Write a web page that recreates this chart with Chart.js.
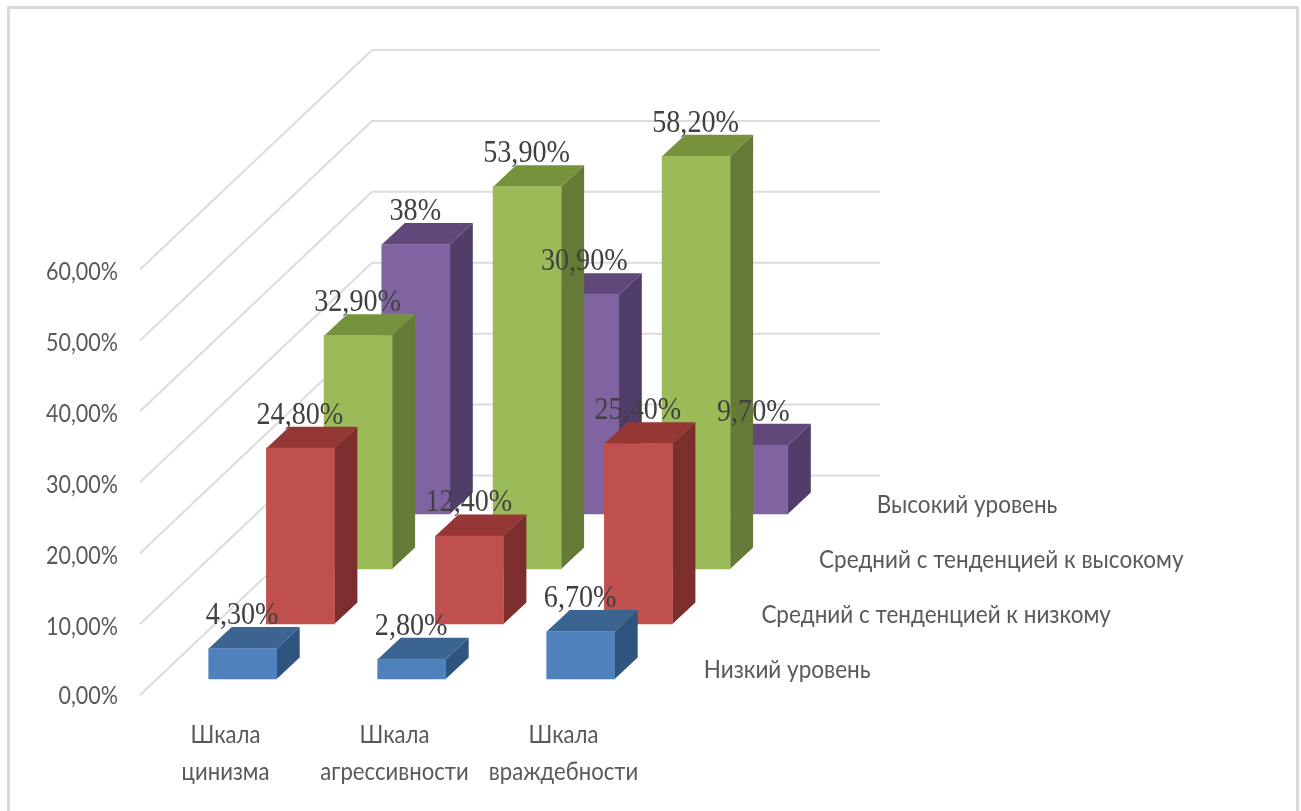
<!DOCTYPE html>
<html>
<head>
<meta charset="utf-8">
<script src="https://cdn.jsdelivr.net/npm/chart.js@4"></script>
<style>
html,body{margin:0;padding:0;background:#fff;width:1301px;height:811px;overflow:hidden}
#frame{position:absolute;left:7px;top:6px;width:1286px;height:900px;border:3px solid #d9d9d9}
canvas{position:absolute;left:0;top:0;filter:blur(0.55px)}
</style>
</head>
<body>
<div id="frame"></div>
<canvas id="c" width="1301" height="811"></canvas>
<script>
const categories = [['Шкала','цинизма'],['Шкала','агрессивности'],['Шкала','враждебности']];
const seriesNames = ['Низкий уровень','Средний с тенденцией к низкому','Средний с тенденцией к высокому','Высокий уровень'];
const lowLevel = [4.3, 2.8, 6.7];
const midLow = [24.8, 12.4, 25.4];
const midHigh = [32.9, 53.9, 58.2];
const highLevel = [38, 30.9, 9.7];
const valueLabels = [
  ['4,30%','2,80%','6,70%'],
  ['24,80%','12,40%','25,40%'],
  ['32,90%','53,90%','58,20%'],
  ['38%','30,90%','9,70%']
];
const yTicks = [0,10,20,30,40,50,60];
const frontColors = ['#4f81bd','#c0504d','#9bbb59','#8064a2'];
const topColors = ['#3b6491','#953735','#76923c','#60497a'];
const sideColors = ['#2f5480','#7b2e2c','#647a36','#513d6a'];

const seriesValues = [lowLevel, midLow, midHigh, highLevel];
const off = k => ({x: 17.2 + k*57.7, y: -16 - k*55});
const BAR_DX = 23, BAR_DY = -21.5;
const WALL_DX = 232, WALL_DY = -219.5, WALL_END = 880;
const AXIS_FONT = '25px Lato,"Open Sans",sans-serif';
const LABEL_FONT = '32px "Liberation Serif",serif';
const Y_SQUEEZE = 0.86, X_SQUEEZE = 0.885, NAME_SQUEEZE = 0.90, LABEL_SQUEEZE = 0.88;

function poly(ctx, pts, color){
  ctx.fillStyle = color;
  ctx.beginPath();
  pts.forEach((p,i)=> i ? ctx.lineTo(p[0],p[1]) : ctx.moveTo(p[0],p[1]));
  ctx.closePath();
  ctx.fill();
}
function squeezed(ctx, text, x, y, sx){
  ctx.save();
  ctx.translate(x,y);
  ctx.scale(sx,1);
  ctx.fillText(text,0,0);
  ctx.restore();
}

const scene3d = {
  id:'scene3d',
  beforeDatasetsDraw(chart){
    const {ctx, scales:{y,x}, chartArea:a} = chart;
    ctx.save();
    ctx.strokeStyle = '#dcdcdc';
    ctx.lineWidth = 2;
    y.ticks.forEach(t=>{
      const py = y.getPixelForValue(t.value);
      ctx.beginPath();
      ctx.moveTo(a.left-1, py);
      ctx.lineTo(a.left-1+WALL_DX, py+WALL_DY);
      ctx.lineTo(WALL_END, py+WALL_DY);
      ctx.stroke();
    });
    ctx.fillStyle = '#595959';
    ctx.font = AXIS_FONT;
    ctx.textBaseline = 'middle';
    ctx.textAlign = 'right';
    y.ticks.forEach((t,i)=>{
      squeezed(ctx, t.label, a.left-23, y.getPixelForTick(i)+1+(i===0?0:1.5), Y_SQUEEZE);
    });
    ctx.textAlign = 'center';
    x.ticks.forEach((t,i)=>{
      t.label.forEach((line,j)=>{
        squeezed(ctx, line, x.getPixelForTick(i), a.bottom+40+j*37, X_SQUEEZE);
      });
    });
    ctx.restore();
  },
  beforeDatasetDraw(chart, args){
    const {ctx} = chart;
    const k = args.index, o = off(k);
    ctx.save();
    ctx.translate(o.x, o.y);
    args.meta.data.forEach(el=>{
      const l = el.x - el.width/2, r = el.x + el.width/2;
      poly(ctx, [[r,el.y],[r+BAR_DX,el.y+BAR_DY],[r+BAR_DX,el.base+BAR_DY],[r,el.base]], sideColors[k]);
      poly(ctx, [[l,el.y],[l+BAR_DX,el.y+BAR_DY],[r+BAR_DX,el.y+BAR_DY],[r,el.y]], topColors[k]);
    });
  },
  afterDatasetDraw(chart){ chart.ctx.restore(); },
  afterDatasetsDraw(chart){
    const {ctx, chartArea:a, scales:{y}} = chart;
    ctx.save();
    ctx.textBaseline = 'middle';
    ctx.fillStyle = '#595959';
    ctx.font = AXIS_FONT;
    ctx.textAlign = 'left';
    seriesNames.forEach((n,k)=>{
      const o = off(k);
      squeezed(ctx, n, a.right + o.x + 38.5, y.getPixelForValue(0) + o.y - 9, NAME_SQUEEZE);
    });
    ctx.fillStyle = '#404040';
    ctx.font = LABEL_FONT;
    ctx.textAlign = 'center';
    chart.data.datasets.forEach((ds,k)=>{
      const o = off(k);
      chart.getDatasetMeta(k).data.forEach((el,i)=>{
        squeezed(ctx, valueLabels[k][i], el.x + o.x - 0.5, el.y + o.y - 33, LABEL_SQUEEZE);
      });
    });
    ctx.restore();
  }
};

new Chart(document.getElementById('c'),{
  type:'bar',
  data:{
    labels:categories,
    datasets:seriesValues.map((v,k)=>({
      label:seriesNames[k],
      data:v,
      backgroundColor:frontColors[k],
      barThickness:68,
      grouped:false,
      clip:false
    }))
  },
  options:{
    responsive:false,
    animation:false,
    events:[],
    layout:{padding:{top:269.5,right:653,left:0,bottom:0}},
    plugins:{legend:{display:false},tooltip:{enabled:false},title:{display:false}},
    scales:{
      x:{
        grid:{display:false},
        border:{display:false},
        afterFit:s=>{s.height=116;},
        ticks:{display:false,autoSkip:false,maxRotation:0}
      },
      y:{
        min:0,max:60,
        grid:{display:false,drawTicks:false},
        border:{display:false},
        afterFit:s=>{s.width=141;},
        afterBuildTicks:s=>{s.ticks=yTicks.map(value=>({value}));},
        ticks:{display:false,
          callback:v=>v.toFixed(2).replace('.',',')+'%'}
      }
    }
  },
  plugins:[scene3d]
});
</script>
</body>
</html>
